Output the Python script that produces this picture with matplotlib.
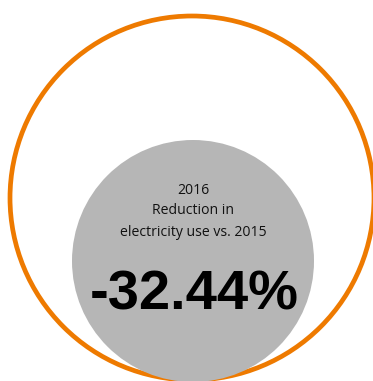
import matplotlib.pyplot as plt
from matplotlib.patches import Circle

# values
year = "2016"
caption = ["Reduction in", "electricity use vs. 2015"]
change_pct = -32.44

fig = plt.figure(figsize=(3.73, 3.81), dpi=100)
ax = fig.add_axes([0, 0, 1, 1])
ax.set_xlim(0, 373)
ax.set_ylim(381, 0)
ax.set_aspect('equal')
ax.axis('off')

# outer orange ring and grey disc
ax.add_patch(Circle((192, 198), 182, fill=False, edgecolor='#ee7a00', linewidth=3.4))
ax.add_patch(Circle((193, 261), 121, facecolor='#b6b6b6', edgecolor='none'))

small = dict(ha='center', va='center', fontsize=10.1, family='Open Sans', color='#111111')
ax.text(193, 190, year, **small)
ax.text(193, 211, caption[0], **small)
ax.text(193, 233, caption[1], **small)

ax.text(194, 295, f'{change_pct:.2f}%', ha='center', va='center', fontsize=40.4,
        fontweight='bold', family='Liberation Sans', color='black')

fig.savefig('out.png', dpi=100)
